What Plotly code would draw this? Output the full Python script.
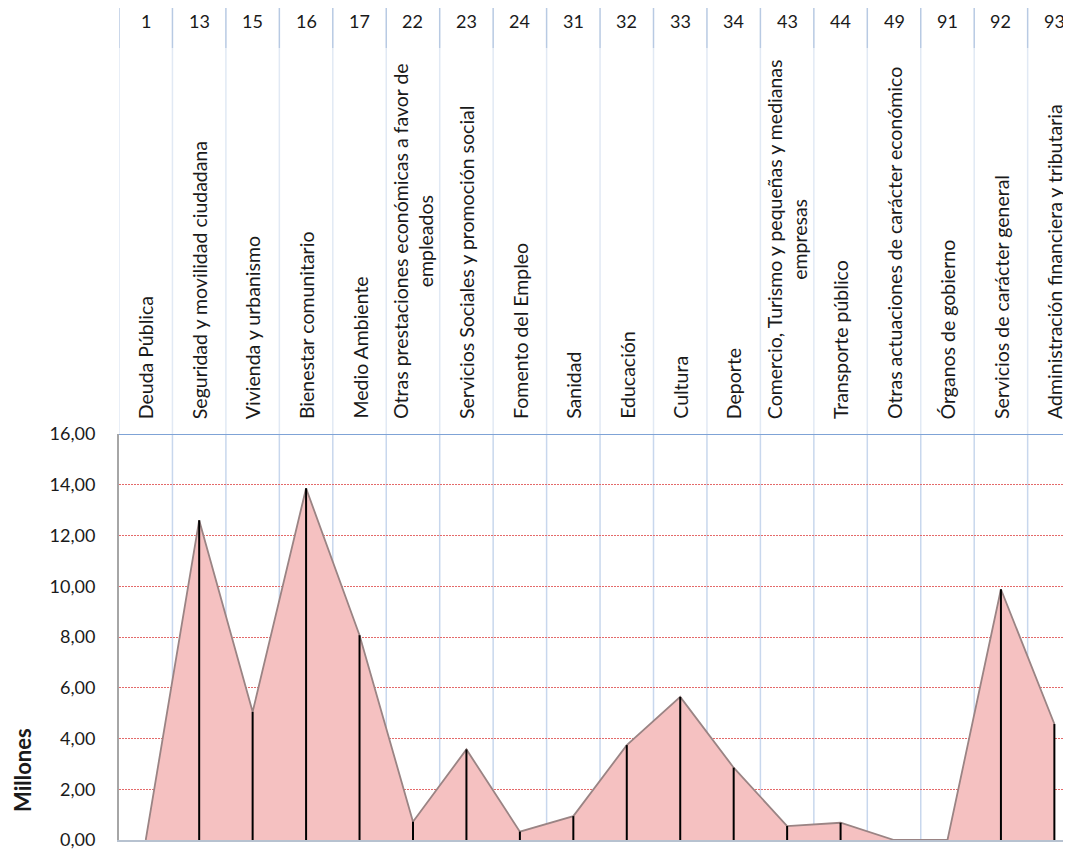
import plotly.graph_objects as go

codes = ["1", "13", "15", "16", "17", "22", "23", "24", "31", "32", "33", "34", "43", "44", "49", "91", "92", "93"]
names = [
    "Deuda Pública",
    "Seguridad y movilidad ciudadana",
    "Vivienda y urbanismo",
    "Bienestar comunitario",
    "Medio Ambiente",
    "Otras prestaciones económicas a favor de<br>empleados",
    "Servicios Sociales y promoción social",
    "Fomento del Empleo",
    "Sanidad",
    "Educación",
    "Cultura",
    "Deporte",
    "Comercio, Turismo y pequeñas y medianas<br>empresas",
    "Transporte público",
    "Otras actuaciones de carácter económico",
    "Órganos de gobierno",
    "Servicios de carácter general",
    "Administración financiera y tributaria",
]
values = [0.00, 12.60, 5.05, 13.86, 8.07, 0.72, 3.57, 0.33, 0.94, 3.74, 5.64, 2.85, 0.55, 0.68, 0.00, 0.00, 9.88, 4.57]
y_ticks = [0, 2, 4, 6, 8, 10, 12, 14, 16]
y_tick_labels = ["0,00", "2,00", "4,00", "6,00", "8,00", "10,00", "12,00", "14,00", "16,00"]

FONT = "Lato"
idx = list(range(len(codes)))

# page body has an 8px margin; work in page pixel coordinates
OFF = 8
FIG_W, FIG_H = 1071 - OFF, 850
PLOT_L, PLOT_R = 119, 1071
H_TOP, H_BOT = 434, 840
PH = H_BOT - H_TOP
PW = PLOT_R - PLOT_L


def py(pix):
    return (H_BOT - pix) / PH


def px(pix):
    return (pix - PLOT_L) / PW


fig = go.Figure()

fig.add_trace(go.Scatter(
    x=idx, y=values, mode="lines", fill="tozeroy",
    fillcolor="#f5c1c1", line=dict(color="#9a8484", width=1.8),
    hoverinfo="skip", showlegend=False,
))

dx, dy = [], []
for i, v in zip(idx, values):
    if i == 0:
        continue
    dx += [i, i, None]
    dy += [0, v, None]
fig.add_trace(go.Scatter(
    x=dx, y=dy, mode="lines", line=dict(color="black", width=2),
    hoverinfo="skip", showlegend=False,
))

shapes = []
for k in range(len(codes) + 1):
    xb = k - 0.5
    if k > 0:
        shapes.append(dict(type="line", xref="x", yref="paper", x0=xb, x1=xb, y0=0, y1=1,
                           line=dict(color="#c8d7ed", width=1.5), layer="below"))
    shapes.append(dict(type="line", xref="x", yref="paper", x0=xb, x1=xb, y0=py(48), y1=py(8),
                       line=dict(color="#b8cae3", width=1.5)))
    shapes.append(dict(type="line", xref="x", yref="paper", x0=xb, x1=xb, y0=py(434), y1=py(48),
                       line=dict(color="#e1e9f4", width=1.5)))

shapes.append(dict(type="line", xref="paper", yref="y", x0=0, x1=1, y0=16, y1=16,
                   line=dict(color="#7fa3d6", width=2)))

annotations = []
for i, c, n in zip(idx, codes, names):
    annotations.append(dict(x=i, y=py(21), xref="x", yref="paper", text=c, showarrow=False,
                            font=dict(family=FONT, size=18, color="#1a1a1a"),
                            xanchor="center", yanchor="middle"))
    annotations.append(dict(x=i, y=py(421), xref="x", yref="paper", text=n, showarrow=False,
                            textangle=-90, align="center",
                            font=dict(family=FONT, size=19.5, color="#1a1a1a"),
                            xanchor="center", yanchor="bottom"))

annotations.append(dict(x=px(22), y=py(770), xref="paper", yref="paper", text="<b>Millones</b>",
                        showarrow=False, textangle=-90,
                        font=dict(family=FONT, size=22, color="#1a1a1a"),
                        xanchor="center", yanchor="middle"))

fig.update_layout(
    width=FIG_W, height=FIG_H,
    margin=dict(l=PLOT_L - OFF, r=0, t=H_TOP - OFF, b=FIG_H - (H_BOT - OFF)),
    paper_bgcolor="white", plot_bgcolor="white",
    shapes=shapes, annotations=annotations,
    xaxis=dict(range=[-0.5, -0.5 + PW / 53.45], showgrid=False, zeroline=False, showticklabels=False,
               showline=True, linecolor="#b7c2d0", linewidth=2, fixedrange=True),
    yaxis=dict(range=[0, 16], tickvals=y_ticks, ticktext=y_tick_labels,
               showgrid=True, gridcolor="#e46a6a", gridwidth=1, griddash="2px,1px",
               zeroline=False, showline=True, linecolor="#a6a6a6", linewidth=2,
               ticks="", ticklabelstandoff=18, ticklabeloverflow="allow",
               tickfont=dict(family=FONT, size=18, color="#1a1a1a"), fixedrange=True),
)

fig.write_html("out.html")
